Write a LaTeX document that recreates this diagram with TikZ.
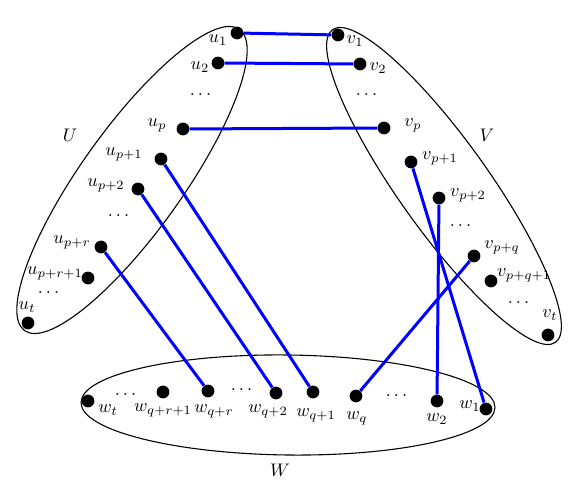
\documentclass[tikz,border=0pt]{standalone}
\usepackage{amsmath,amssymb}
\usepackage{tikz}

\begin{document}
\begin{tikzpicture}[x=0.55pt, y=-0.55pt,
  dot/.style={circle, fill=black, inner sep=0pt, minimum size=7pt},
  match/.style={line width=1.65pt, blue}]
  \useasboundingbox (0,0) rectangle (575,485);
  \draw[line width=0.6pt, rotate around={54.5:(132,180)}] (132,180) ellipse [x radius=185, y radius=51];
  \draw[line width=0.6pt, rotate around={-54.5:(444,186)}] (444,186) ellipse [x radius=192, y radius=45];
  \draw[line width=0.6pt, rotate around={-0.7:(288,405)}] (288,405) ellipse [x radius=207, y radius=50];
  \node (U) at (70,135) {$U$};
  \node (V) at (487,135) {$V$};
  \node (W) at (280,470) {$W$};
  % U
  \node[dot] (u1) at (237,33) {};
  \node[dot] (u2) at (218,63) {};
  \node[dot] (up) at (183,129) {};
  \node[dot] (up1) at (161,159) {};
  \node[dot] (up2) at (138,189) {};
  \node[dot] (upr) at (101,247) {};
  \node[dot] (upr1) at (88,278) {};
  \node[dot] (ut) at (28,323) {};
  \node (lu1) at (218,40) {$u_1$};
  \node (lu2) at (200,67) {$u_2$};
  \node (du1) at (202,95) {$\dots$};
  \node (lup) at (157,125) {$u_p$};
  \node (lup1) at (124,154) {$u_{p+1}$};
  \node (lup2) at (106,185) {$u_{p+2}$};
  \node (du2) at (120,216) {$\dots$};
  \node (lupr) at (72,242) {$u_{p+r}$};
  \node (lupr1) at (55,273) {$u_{p+r+1}$};
  \node (du3) at (50,293) {$\dots$};
  \node (lut) at (27,307) {$u_t$};
  % V
  \node[dot] (v1) at (338,35) {};
  \node[dot] (v2) at (360,64) {};
  \node[dot] (vp) at (384,128) {};
  \node[dot] (vp1) at (411,162) {};
  \node[dot] (vp2) at (439,198) {};
  \node[dot] (vpq) at (474,256) {};
  \node[dot] (vpq1) at (491,281) {};
  \node[dot] (vt) at (548,335) {};
  \node (lv1) at (355,41) {$v_1$};
  \node (lv2) at (378,68) {$v_2$};
  \node (dv1) at (368,95) {$\dots$};
  \node (lvp) at (413,125) {$v_p$};
  \node (lvp1) at (440,158) {$v_{p+1}$};
  \node (lvp2) at (468,195) {$v_{p+2}$};
  \node (dv2) at (462,226) {$\dots$};
  \node (lvpq) at (502,247) {$v_{p+q}$};
  \node (lvpq1) at (524,275) {$v_{p+q+1}$};
  \node (dv3) at (520,303) {$\dots$};
  \node (lvt) at (550,315) {$v_t$};
  % W
  \node[dot] (wt) at (88,401) {};
  \node[dot] (wqr1) at (163,392) {};
  \node[dot] (wqr) at (208,391) {};
  \node[dot] (wq2) at (276,393) {};
  \node[dot] (wq1) at (313,392) {};
  \node[dot] (wq) at (356,396) {};
  \node[dot] (w2) at (437,401) {};
  \node[dot] (w1) at (486,409) {};
  \node (lwt) at (108,410) {$w_t$};
  \node (dw1) at (127,395) {$\dots$};
  \node (lwqr1) at (163,410) {$w_{q+r+1}$};
  \node (lwqr) at (214,411) {$w_{q+r}$};
  \node (dw2) at (243,390) {$\dots$};
  \node (lwq2) at (268,411) {$w_{q+2}$};
  \node (lwq1) at (316,415) {$w_{q+1}$};
  \node (lwq) at (357,418) {$w_q$};
  \node (dw3) at (398,396) {$\dots$};
  \node (lw2) at (437,419) {$w_2$};
  \node (lw1) at (470,406) {$w_1$};
  % matching edges
  \draw[match] (u1) -- (v1);
  \draw[match] (u2) -- (v2);
  \draw[match] (up) -- (vp);
  \draw[match] (up1) -- (wq1);
  \draw[match] (up2) -- (wq2);
  \draw[match] (upr) -- (wqr);
  \draw[match] (vp1) -- (w1);
  \draw[match] (vp2) -- (w2);
  \draw[match] (vpq) -- (wq);
\end{tikzpicture}
\end{document}
